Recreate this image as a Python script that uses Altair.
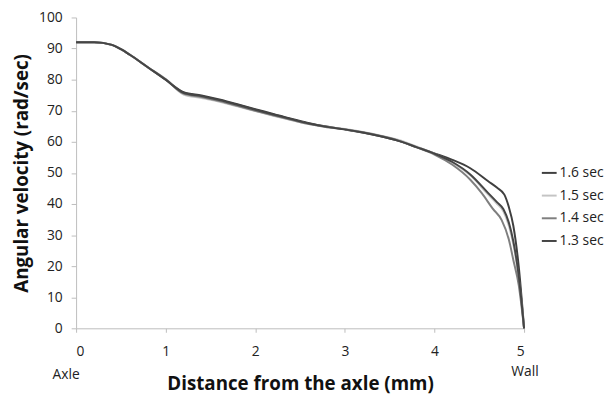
import altair as alt
import pandas as pd

series_names = ["1.6 sec", "1.5 sec", "1.4 sec", "1.3 sec"]
series_colors = ["#3f3f3f", "#c4c4c4", "#7f7f7f", "#454545"]

head_x = [0, 0.2, 0.4, 0.5, 0.6, 0.8, 1.0, 1.2, 1.4, 1.6, 1.8, 2.0, 2.2, 2.4, 2.6, 2.8, 3.0, 3.2, 3.4, 3.6, 3.8, 4.0]
head_16 = [92.0, 92.0, 91.2, 89.8, 88.0, 84.0, 80.0, 76.0, 74.9, 73.6, 72.1, 70.5, 69.0, 67.4, 66.0, 64.9, 64.0, 63.0, 61.8, 60.3, 58.3, 56.3]
head_15 = [92.0, 92.0, 91.2, 89.8, 88.0, 84.0, 80.2, 75.2, 74.1, 72.9, 71.4, 69.9, 68.4, 67.0, 65.7, 64.8, 64.1, 63.2, 62.0, 60.6, 58.5, 56.2]
head_14 = [92.0, 92.0, 91.2, 89.8, 88.0, 84.0, 80.1, 75.5, 74.4, 73.1, 71.6, 70.0, 68.5, 67.1, 65.7, 64.7, 64.0, 63.1, 61.9, 60.4, 58.2, 55.9]
head_13 = [92.0, 92.0, 91.2, 89.8, 88.0, 84.0, 80.0, 75.8, 74.7, 73.4, 71.9, 70.3, 68.8, 67.3, 65.9, 64.8, 64.0, 63.0, 61.8, 60.3, 58.3, 56.2]

tail_x_16 = [4.2, 4.4, 4.6, 4.7, 4.78, 4.83, 4.88, 4.94, 5.0]
tail_16 = [54.2, 51.5, 47.3, 45.2, 43.0, 39.0, 33.0, 20.0, 0.0]
tail_x_15 = [4.2, 4.4, 4.6, 4.7, 4.77, 4.83, 4.88, 4.94, 5.0]
tail_15 = [53.3, 49.2, 43.0, 40.0, 37.6, 33.0, 27.0, 16.0, 0.0]
tail_x_14 = [4.2, 4.4, 4.53, 4.65, 4.75, 4.83, 4.88, 4.94, 5.0]
tail_14 = [52.6, 47.8, 43.4, 38.5, 34.8, 28.6, 22.0, 14.0, 0.0]
tail_x_13 = [4.2, 4.4, 4.6, 4.7, 4.77, 4.83, 4.88, 4.94, 5.0]
tail_13 = [53.5, 49.5, 43.5, 40.5, 38.3, 34.0, 28.0, 17.0, 0.0]

x_ticks = [0, 1, 2, 3, 4, 5]
y_ticks = [0, 10, 20, 30, 40, 50, 60, 70, 80, 90, 100]
end_labels = ["Axle", "Wall"]
end_pos = [0, 5]

rows = []
for name, hv, tx, tv in [
    ("1.6 sec", head_16, tail_x_16, tail_16),
    ("1.5 sec", head_15, tail_x_15, tail_15),
    ("1.4 sec", head_14, tail_x_14, tail_14),
    ("1.3 sec", head_13, tail_x_13, tail_13),
]:
    for i, (xv, yv) in enumerate(zip(head_x + tx, hv + tv)):
        rows.append({"series": name, "x": xv, "v": yv, "i": i})
df = pd.DataFrame(rows)

FONT = "Open Sans"
W, H = 454, 315

lines = alt.Chart(df).mark_line(strokeWidth=2, interpolate="monotone").encode(
    x=alt.X("x:Q", scale=alt.Scale(domain=[0, 5], nice=False),
            axis=alt.Axis(values=x_ticks, format="d", title="Distance from the axle (mm)",
                          titleX=W / 2, titleY=56, titleBaseline="middle",
                          labelPadding=13, tickSize=4)),
    y=alt.Y("v:Q", scale=alt.Scale(domain=[0, 100], nice=False),
            axis=alt.Axis(values=y_ticks, title="Angular velocity (rad/sec)",
                          titleX=-55, titleY=H / 2, titleAngle=-90,
                          titleAlign="center", titleBaseline="middle",
                          labelPadding=9, tickSize=5)),
    color=alt.Color("series:N",
                    scale=alt.Scale(domain=series_names, range=series_colors),
                    legend=alt.Legend(title=None, orient="none", legendX=471, legendY=149,
                                      symbolType="stroke", symbolSize=225,
                                      symbolStrokeWidth=2, labelFontSize=14,
                                      labelFont=FONT, labelColor="#222",
                                      labelOffset=2, rowPadding=7, padding=0)),
    order="i:Q",
)

ends = pd.DataFrame({"pos": end_pos, "name": end_labels})
axle = alt.Chart(ends).transform_filter(alt.datum.name == "Axle").mark_text(
    font=FONT, fontSize=14, color="#222", baseline="middle", dx=-10
).encode(x="pos:Q", y=alt.value(H + 47), text="name:N")
wall = alt.Chart(ends).transform_filter(alt.datum.name == "Wall").mark_text(
    font=FONT, fontSize=14, color="#222", baseline="middle", dx=1
).encode(x="pos:Q", y=alt.value(H + 44), text="name:N")

chart = alt.layer(lines, axle, wall).properties(
    width=W, height=H, autosize="none",
    padding={"left": 69, "top": 7, "right": 81, "bottom": 67},
    background="white",
).configure_view(stroke=None).configure_axis(
    grid=False, domainColor="#bdbdbd", tickColor="#bdbdbd",
    labelFont=FONT, labelFontSize=14, labelColor="#222",
    titleFont=FONT, titleFontSize=19, titleFontWeight="bold", titleColor="#111",
)

chart.save("out.html", embed_options={"renderer": "svg", "actions": False})
